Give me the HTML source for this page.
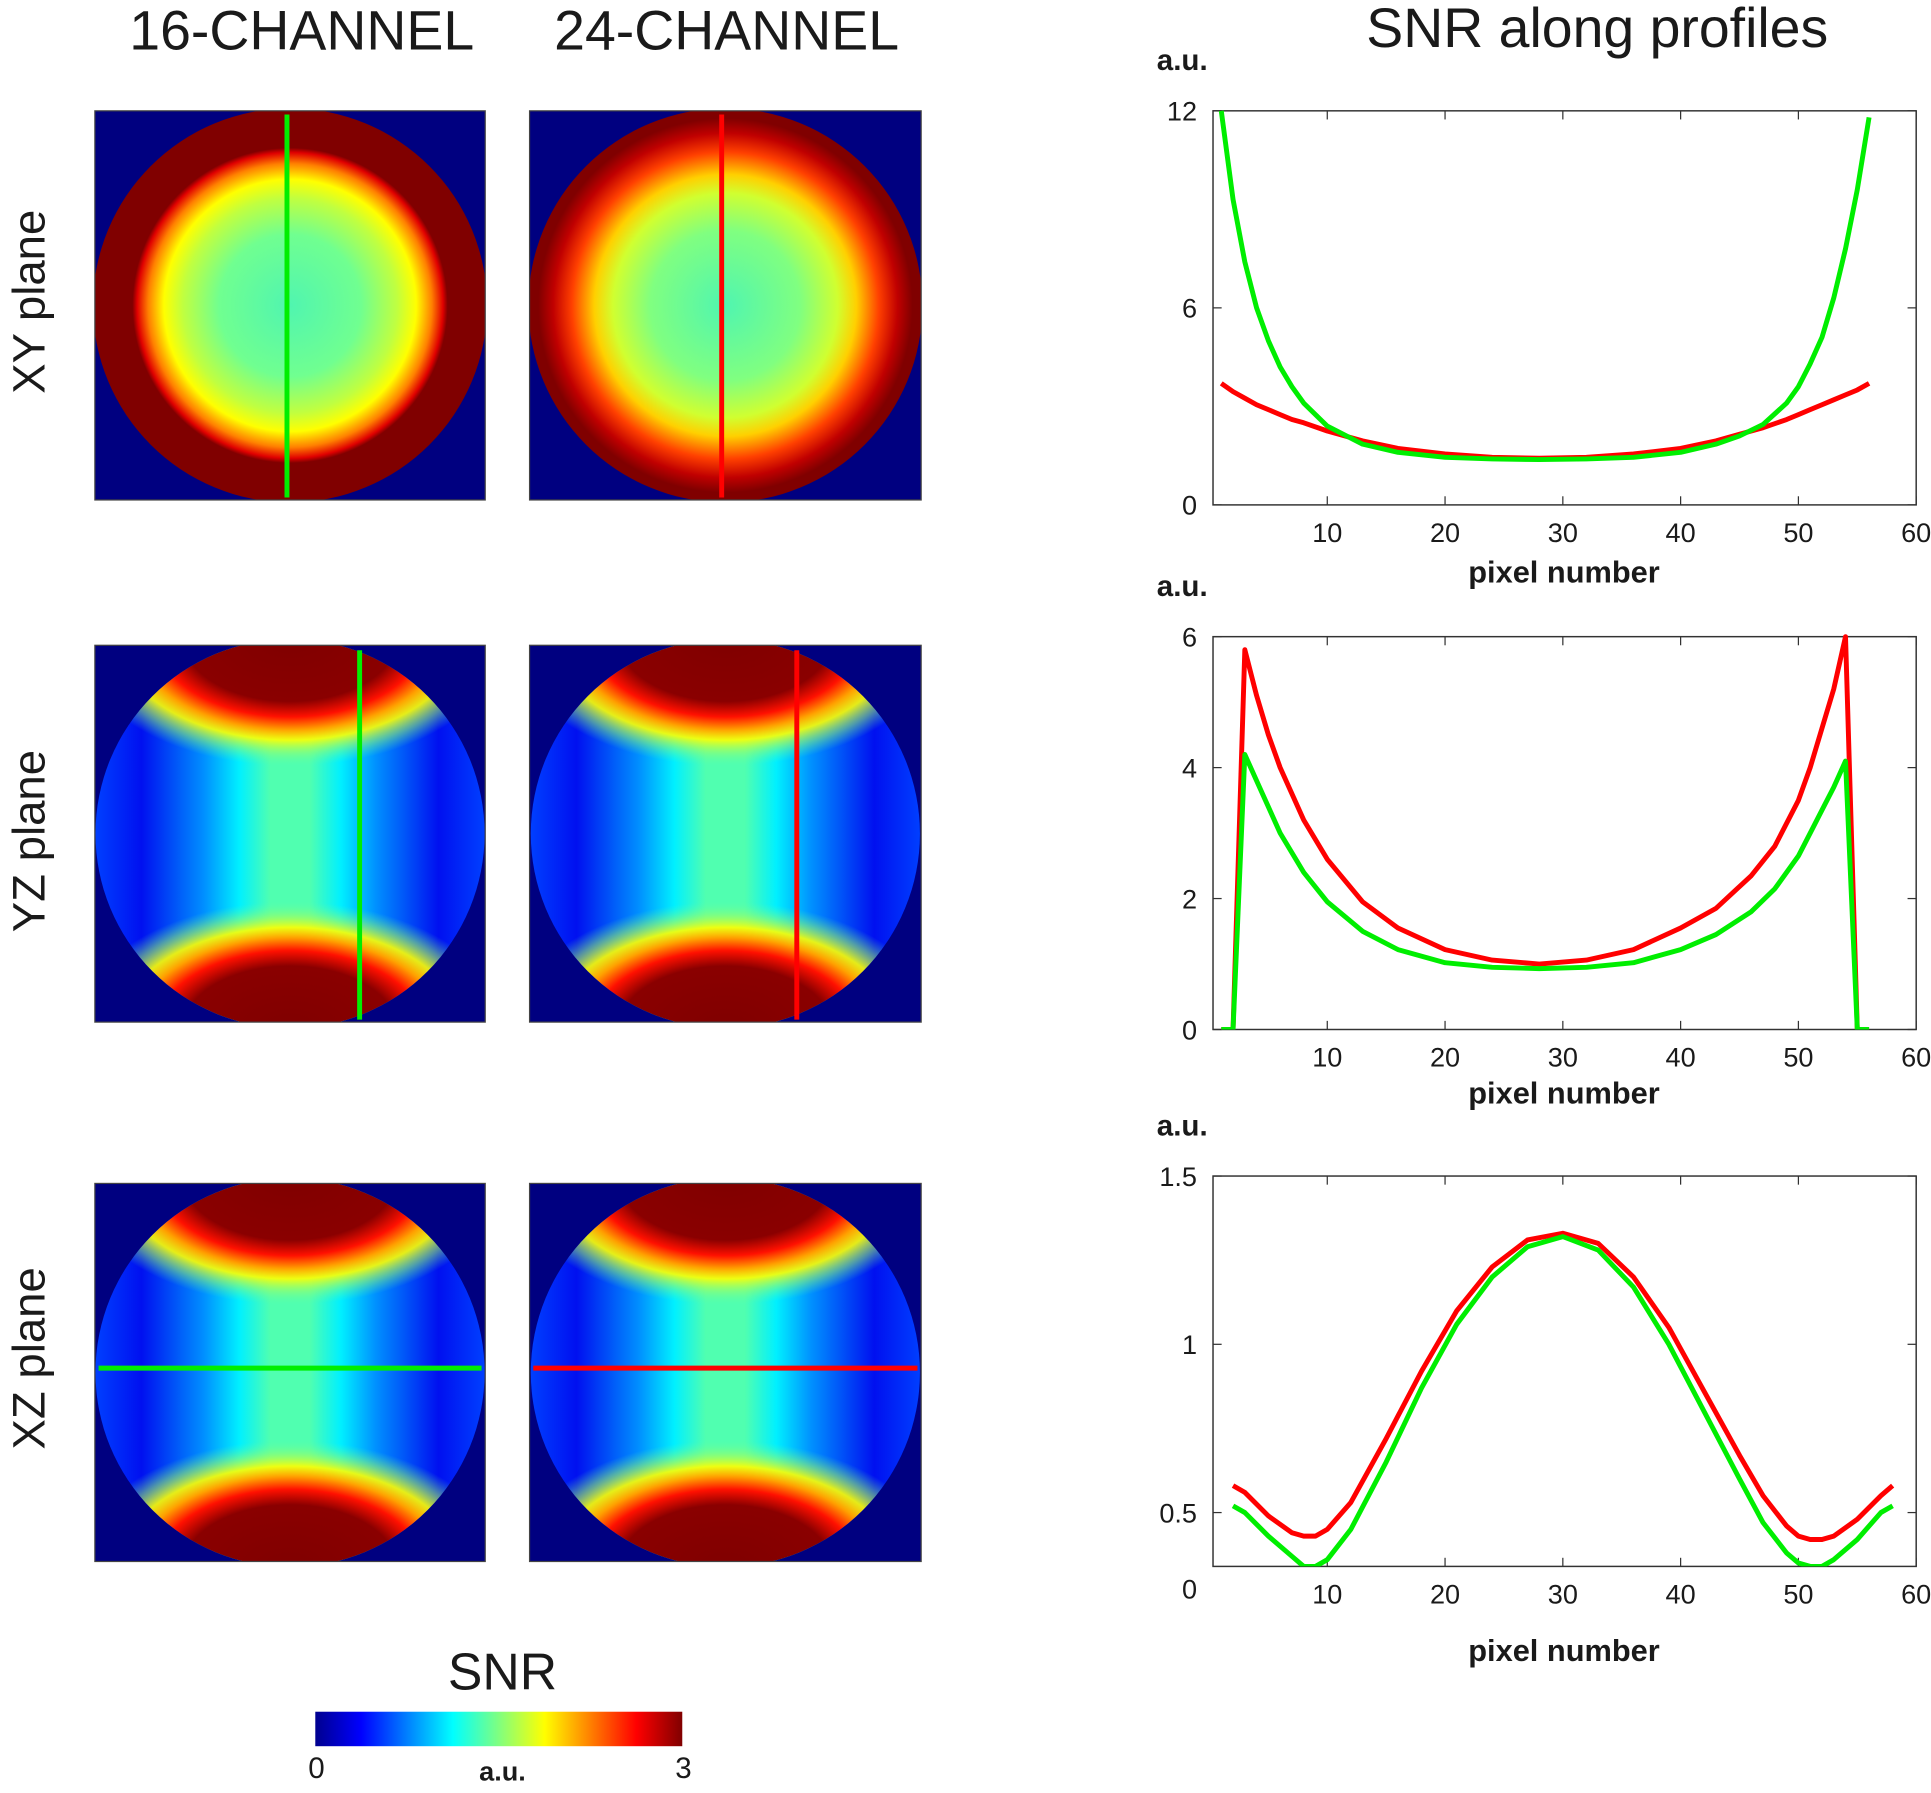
<!DOCTYPE html>
<html><head><meta charset="utf-8"><style>
html,body{margin:0;padding:0;background:#fff}
svg{display:block}
text{font-family:"Liberation Sans",Arial,sans-serif;fill:#1a1a1a}
</style></head><body>
<svg id="fig" width="1931" height="1793" viewBox="0 0 1568 1456" xmlns="http://www.w3.org/2000/svg">
<defs>
<linearGradient id="jet" x1="0" x2="1" y1="0" y2="0">
<stop offset="0" stop-color="#00008f"/><stop offset="0.125" stop-color="#0000ff"/><stop offset="0.375" stop-color="#00ffff"/><stop offset="0.625" stop-color="#ffff00"/><stop offset="0.875" stop-color="#ff0000"/><stop offset="1" stop-color="#800000"/>
</linearGradient>
<radialGradient id="xy16"><stop offset="0" stop-color="#50f5b0"/><stop offset="0.45" stop-color="#70ff90"/><stop offset="0.68" stop-color="#c0ff40"/><stop offset="0.8" stop-color="#ffff00"/><stop offset="0.9" stop-color="#ff8000"/><stop offset="0.97" stop-color="#e00000"/><stop offset="1" stop-color="#800000"/></radialGradient>
<radialGradient id="xy24"><stop offset="0" stop-color="#50f5b0"/><stop offset="0.4" stop-color="#80ff80"/><stop offset="0.6" stop-color="#d0ff30"/><stop offset="0.7" stop-color="#ffd000"/><stop offset="0.82" stop-color="#ff4000"/><stop offset="0.92" stop-color="#c00000"/><stop offset="1" stop-color="#800000"/></radialGradient>
<linearGradient id="side" x1="0" x2="1" y1="0" y2="0">
<stop offset="0" stop-color="#0040ff"/><stop offset="0.12" stop-color="#0010f0"/><stop offset="0.28" stop-color="#0090ff"/><stop offset="0.37" stop-color="#00f0ff"/><stop offset="0.45" stop-color="#50ffb0"/><stop offset="0.55" stop-color="#50ffb0"/><stop offset="0.63" stop-color="#00f0ff"/><stop offset="0.72" stop-color="#0090ff"/><stop offset="0.88" stop-color="#0010f0"/><stop offset="1" stop-color="#0040ff"/></linearGradient>
<radialGradient id="cap"><stop offset="0" stop-color="#800000"/><stop offset="0.5" stop-color="#8a0000"/><stop offset="0.62" stop-color="#ff1000"/><stop offset="0.72" stop-color="#ffa000"/><stop offset="0.8" stop-color="#ffff00" stop-opacity="0.9"/><stop offset="0.9" stop-color="#a0ff60" stop-opacity="0.5"/><stop offset="1" stop-color="#60ffa0" stop-opacity="0"/></radialGradient>
</defs>
<text x="245" y="40" font-size="45" text-anchor="middle">16-CHANNEL</text>
<text x="590" y="40" font-size="45" text-anchor="middle">24-CHANNEL</text>
<text x="1297" y="38" font-size="45" text-anchor="middle">SNR along profiles</text>
<text transform="translate(36,245) rotate(-90)" font-size="37" text-anchor="middle">XY plane</text>
<text transform="translate(36,683) rotate(-90)" font-size="37" text-anchor="middle">YZ plane</text>
<text transform="translate(36,1103) rotate(-90)" font-size="37" text-anchor="middle">XZ plane</text>
<g id="maps"></g>
<g id="plots"></g>
<text x="408" y="1372" font-size="42" text-anchor="middle">SNR</text>
<rect x="256" y="1390" width="298" height="28" fill="url(#jet)"/>
<text x="257" y="1444" font-size="24" text-anchor="middle">0</text>
<text x="408" y="1446" font-size="22" font-weight="bold" text-anchor="middle">a.u.</text>
<text x="555" y="1444" font-size="24" text-anchor="middle">3</text>
</svg>
<script>
const NS='http://www.w3.org/2000/svg';
function mk(tag,attrs,parent){const e=document.createElementNS(NS,tag);for(const k in attrs)e.setAttribute(k,attrs[k]);parent.appendChild(e);return e;}
const maps=document.getElementById('maps');
const mapCols=[[77,394],[430,748]];
const mapRows=[[90,406],[524,830],[961,1268]];
const rowNames=['xy','yz','xz'];
const chNames=['16ch','24ch'];
mapRows.forEach((r,ri)=>{mapCols.forEach((c,ci)=>{
  const g=mk('g',{},maps);
  
  
  const id='clip'+ri+ci;
  const cp=mk('clipPath',{id:id},g);mk('rect',{x:c[0],y:r[0],width:c[1]-c[0],height:r[1]-r[0]},cp);
  const inner=mk('g',{'clip-path':'url(#'+id+')'},g);
  mk('rect',{x:c[0],y:r[0],width:c[1]-c[0],height:r[1]-r[0],fill:'#000080'},inner);
  const cx=(c[0]+c[1])/2, cy=(r[0]+r[1])/2;
  if(ri===0){
    mk('circle',{cx:cx,cy:cy,r:160,fill:'#800000'},inner);
    mk('circle',{cx:cx,cy:cy,r:ci?152:128,fill:ci?'url(#xy24)':'url(#xy16)'},inner);
  } else {
    const cid='cc'+ri+ci;const cp2=mk('clipPath',{id:cid},g);mk('circle',{cx:cx,cy:cy,r:158},cp2);
    const g2=mk('g',{'clip-path':'url(#'+cid+')'},inner);
    mk('rect',{x:c[0],y:r[0],width:c[1]-c[0],height:r[1]-r[0],fill:'url(#side)'},g2);
    mk('ellipse',{cx:cx,cy:cy-160,rx:175,ry:105,fill:'url(#cap)'},g2);
    mk('ellipse',{cx:cx,cy:cy+160,rx:175,ry:105,fill:'url(#cap)'},g2);
  }
  mk('rect',{x:c[0],y:r[0],width:c[1]-c[0],height:r[1]-r[0],fill:'none',stroke:'#444','stroke-width':1},g);
  const col=ci?'#ff0000':'#00ee00';
  let ln;
  if(ri===0){const x=ci?586:233;ln=mk('line',{x1:x,x2:x,y1:r[0]+3,y2:r[1]-2,stroke:col,'stroke-width':4},g);}
  else if(ri===1){const x=ci?647:292;ln=mk('line',{x1:x,x2:x,y1:r[0]+4,y2:r[1]-2,stroke:col,'stroke-width':4},g);}
  else {ln=mk('line',{x1:c[0]+3,x2:c[1]-3,y1:1111,y2:1111,stroke:col,'stroke-width':4},g);}
  
  
});});

// ---- profile data ----
const xTicks=[10,20,30,40,50,60];
const p1X=[1,2,3,4,5,6,7,8,10,13,16,20,24,28,32,36,40,43,45,47,49,50,51,52,53,54,55,56];
const p1Red=[3.7,3.45,3.25,3.05,2.9,2.75,2.6,2.5,2.25,1.95,1.72,1.55,1.45,1.42,1.45,1.55,1.72,1.95,2.15,2.35,2.6,2.75,2.9,3.05,3.2,3.35,3.5,3.7];
const p1Green=[12,9.3,7.4,6.0,5.0,4.2,3.6,3.1,2.4,1.85,1.6,1.45,1.4,1.38,1.4,1.45,1.6,1.85,2.1,2.45,3.1,3.6,4.3,5.1,6.3,7.8,9.6,11.8];
const p1YTicks=[0,6,12];
const p2X=[1,2,3,4,5,6,8,10,13,16,20,24,28,32,36,40,43,46,48,50,51,52,53,54,55,56];
const p2Red=[0,0,5.8,5.1,4.5,4.0,3.2,2.6,1.95,1.55,1.22,1.06,1.0,1.06,1.22,1.55,1.85,2.35,2.8,3.5,4.0,4.6,5.2,6.0,0,0];
const p2Green=[0,0,4.2,3.8,3.4,3.0,2.4,1.95,1.5,1.22,1.02,0.95,0.93,0.95,1.02,1.22,1.45,1.8,2.15,2.65,3.0,3.35,3.7,4.1,0,0];
const p2YTicks=[0,2,4,6];
const p3X=[2,3,5,7,8,9,10,12,15,18,21,24,27,30,33,36,39,42,45,47,49,50,51,52,53,55,57,58];
const p3Red=[0.58,0.56,0.49,0.44,0.43,0.43,0.45,0.53,0.72,0.92,1.1,1.23,1.31,1.33,1.3,1.2,1.05,0.86,0.67,0.55,0.46,0.43,0.42,0.42,0.43,0.48,0.55,0.58];
const p3Green=[0.52,0.5,0.43,0.37,0.34,0.34,0.36,0.45,0.65,0.87,1.06,1.2,1.29,1.32,1.28,1.17,1.0,0.8,0.6,0.47,0.38,0.35,0.34,0.34,0.36,0.42,0.5,0.52];
const p3YTicks=[0.5,1,1.5];

const plots=document.getElementById('plots');
const L=985,R=1556,X0=0.3,X1=60;
function sx(v){return L+(v-X0)/(X1-X0)*(R-L);}
function drawPlot(name,top,bot,y0,y1,yt,xs,red,green,xlabY,extraZero){
  const g=mk('g',{},plots);
  
  
  const sy=v=>bot-(v-y0)/(y1-y0)*(bot-top);
  const cid='pc'+name;const cp=mk('clipPath',{id:cid},g);mk('rect',{x:L,y:top-4,width:R-L,height:bot-top+4},cp);
  yt.forEach(v=>{
    const y=sy(v);
    mk('line',{x1:L,x2:L+7,y1:y,y2:y,stroke:'#333','stroke-width':1},g);
    mk('line',{x1:R-7,x2:R,y1:y,y2:y,stroke:'#333','stroke-width':1},g);
    const t=mk('text',{x:L-13,y:y+8,'font-size':22,'text-anchor':'end'},g);t.textContent=String(v);
    
    
  });
  if(extraZero){const t=mk('text',{x:L-13,y:bot+26,'font-size':22,'text-anchor':'end'},g);t.textContent='0';
    
    }
  xTicks.forEach(v=>{
    const x=sx(v);
    mk('line',{x1:x,x2:x,y1:bot,y2:bot-7,stroke:'#333','stroke-width':1},g);
    mk('line',{x1:x,x2:x,y1:top,y2:top+7,stroke:'#333','stroke-width':1},g);
    const t=mk('text',{x:x,y:bot+30,'font-size':22,'text-anchor':'middle'},g);t.textContent=String(v);
    
    
  });
  mk('rect',{x:L,y:top,width:R-L,height:bot-top,fill:'none',stroke:'#333','stroke-width':1.2},g);
  [[red,'#ff0000','series-24-channel'],[green,'#00ee00','series-16-channel']].forEach(s=>{
    const p=mk('polyline',{points:xs.map((x,i)=>sx(x)+','+sy(s[0][i])).join(' '),fill:'none',stroke:s[1],'stroke-width':4,'stroke-linejoin':'round','clip-path':'url(#'+cid+')'},g);
    
    
  });
  const u=mk('text',{x:960,y:top-33,'font-size':24,'font-weight':'bold','text-anchor':'middle'},g);u.textContent='a.u.';
  
  
  if(xlabY){const t=mk('text',{x:1270,y:xlabY,'font-size':25,'font-weight':'bold','text-anchor':'middle'},g);t.textContent='pixel number';
    
    }
}
drawPlot('profile-plot-xy',90,410,0,12,p1YTicks,p1X,p1Red,p1Green,473,false);
drawPlot('profile-plot-yz',517,836,0,6,p2YTicks,p2X,p2Red,p2Green,896,false);
drawPlot('profile-plot-xz',955,1272,0.34,1.5,p3YTicks,p3X,p3Red,p3Green,1349,true);
</script>
</body></html>
